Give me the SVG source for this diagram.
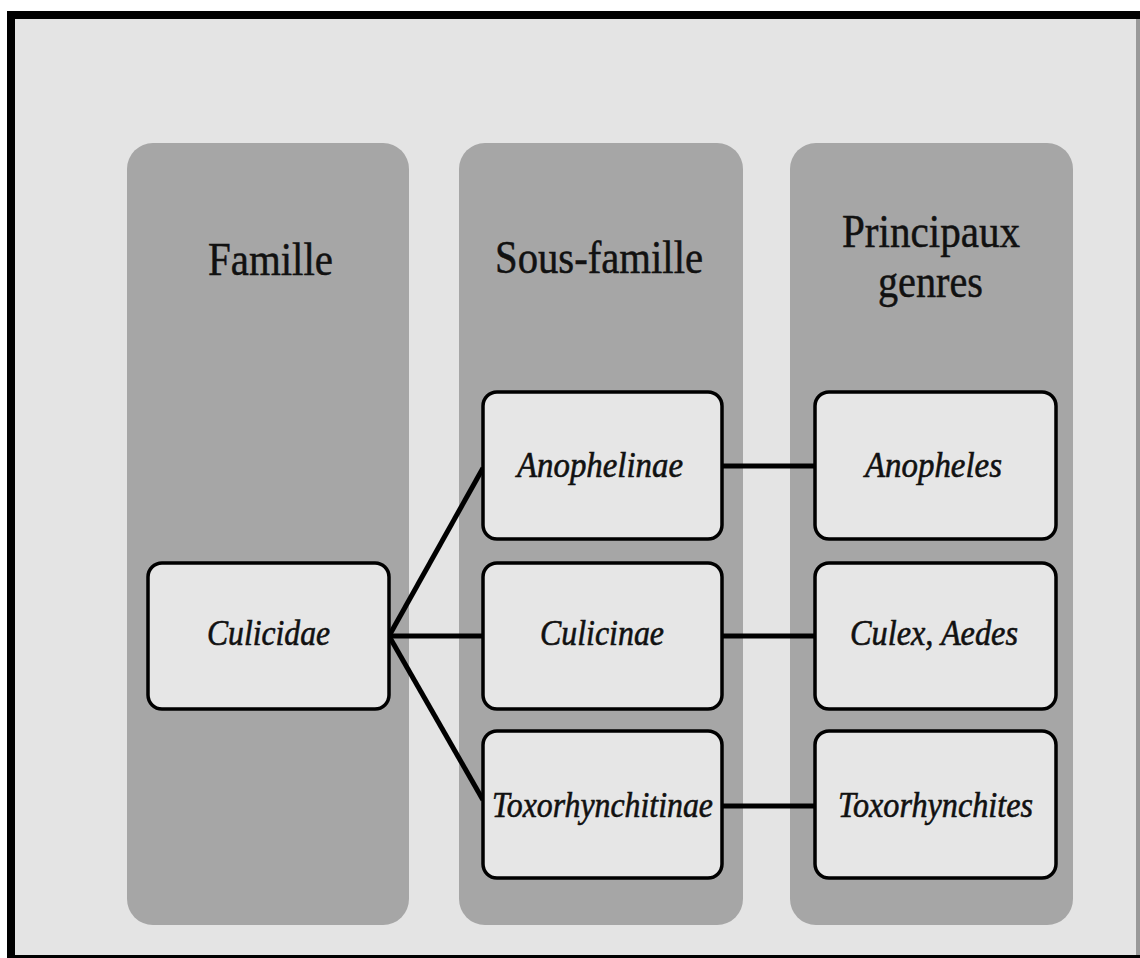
<svg xmlns="http://www.w3.org/2000/svg" width="1140" height="958" viewBox="0 0 1140 958">
<style>
.col{fill:#a6a6a6}
.box{fill:#e6e6e6;stroke:#000;stroke-width:3.5}
.hd{font-family:"Liberation Serif",serif;font-size:47px;fill:#111;stroke:#111;stroke-width:0.5}
.it{font-family:"Liberation Serif",serif;font-style:italic;font-size:36px;fill:#111;stroke:#111;stroke-width:0.6}
.cn line{stroke:#000;stroke-width:5}
</style>
<rect x="0" y="0" width="1140" height="958" fill="#fff"/>
<rect x="7" y="11" width="1133" height="947" fill="#000"/>
<rect x="15" y="19" width="1121" height="936" fill="#e4e4e4"/>
<rect x="1136" y="19" width="4" height="936" fill="#999"/>
<g id="col-famille"><rect class="col" x="127" y="143" width="282" height="782" rx="26"/><text class="hd" x="208" y="275" textLength="125" lengthAdjust="spacingAndGlyphs">Famille</text></g>
<g id="col-sousfamille"><rect class="col" x="459" y="143" width="284" height="782" rx="26"/><text class="hd" x="495" y="273" textLength="208" lengthAdjust="spacingAndGlyphs">Sous-famille</text></g>
<g id="col-genres"><rect class="col" x="790" y="143" width="283" height="782" rx="26"/><text class="hd" x="842" y="247" textLength="178" lengthAdjust="spacingAndGlyphs">Principaux</text><text class="hd" x="878" y="297" textLength="105" lengthAdjust="spacingAndGlyphs">genres</text></g>
<g class="cn" id="connectors">
<line x1="389" y1="636" x2="483" y2="468"/>
<line x1="389" y1="636" x2="483" y2="636"/>
<line x1="389" y1="636" x2="483" y2="800"/>
<line x1="722" y1="466" x2="815" y2="466"/>
<line x1="722" y1="636" x2="815" y2="636"/>
<line x1="722" y1="806" x2="815" y2="806"/>
</g>
<g id="culicidae"><rect class="box" x="148" y="563" width="241" height="146" rx="14"/><text class="it" x="207" y="645" textLength="123" lengthAdjust="spacingAndGlyphs">Culicidae</text></g>
<g id="anophelinae"><rect class="box" x="483" y="392" width="239" height="147" rx="14"/><text class="it" x="517" y="477" textLength="166" lengthAdjust="spacingAndGlyphs">Anophelinae</text></g>
<g id="culicinae"><rect class="box" x="483" y="563" width="239" height="146" rx="14"/><text class="it" x="540" y="645" textLength="124" lengthAdjust="spacingAndGlyphs">Culicinae</text></g>
<g id="toxorhynchitinae"><rect class="box" x="483" y="731" width="239" height="147" rx="14"/><text class="it" x="492" y="817" textLength="221" lengthAdjust="spacingAndGlyphs">Toxorhynchitinae</text></g>
<g id="anopheles"><rect class="box" x="815" y="392" width="241" height="147" rx="14"/><text class="it" x="865" y="477" textLength="137" lengthAdjust="spacingAndGlyphs">Anopheles</text></g>
<g id="culex-aedes"><rect class="box" x="815" y="563" width="241" height="146" rx="14"/><text class="it" x="850" y="645" textLength="168" lengthAdjust="spacingAndGlyphs">Culex, Aedes</text></g>
<g id="toxorhynchites"><rect class="box" x="815" y="731" width="241" height="147" rx="14"/><text class="it" x="838" y="817" textLength="195" lengthAdjust="spacingAndGlyphs">Toxorhynchites</text></g>
</svg>
